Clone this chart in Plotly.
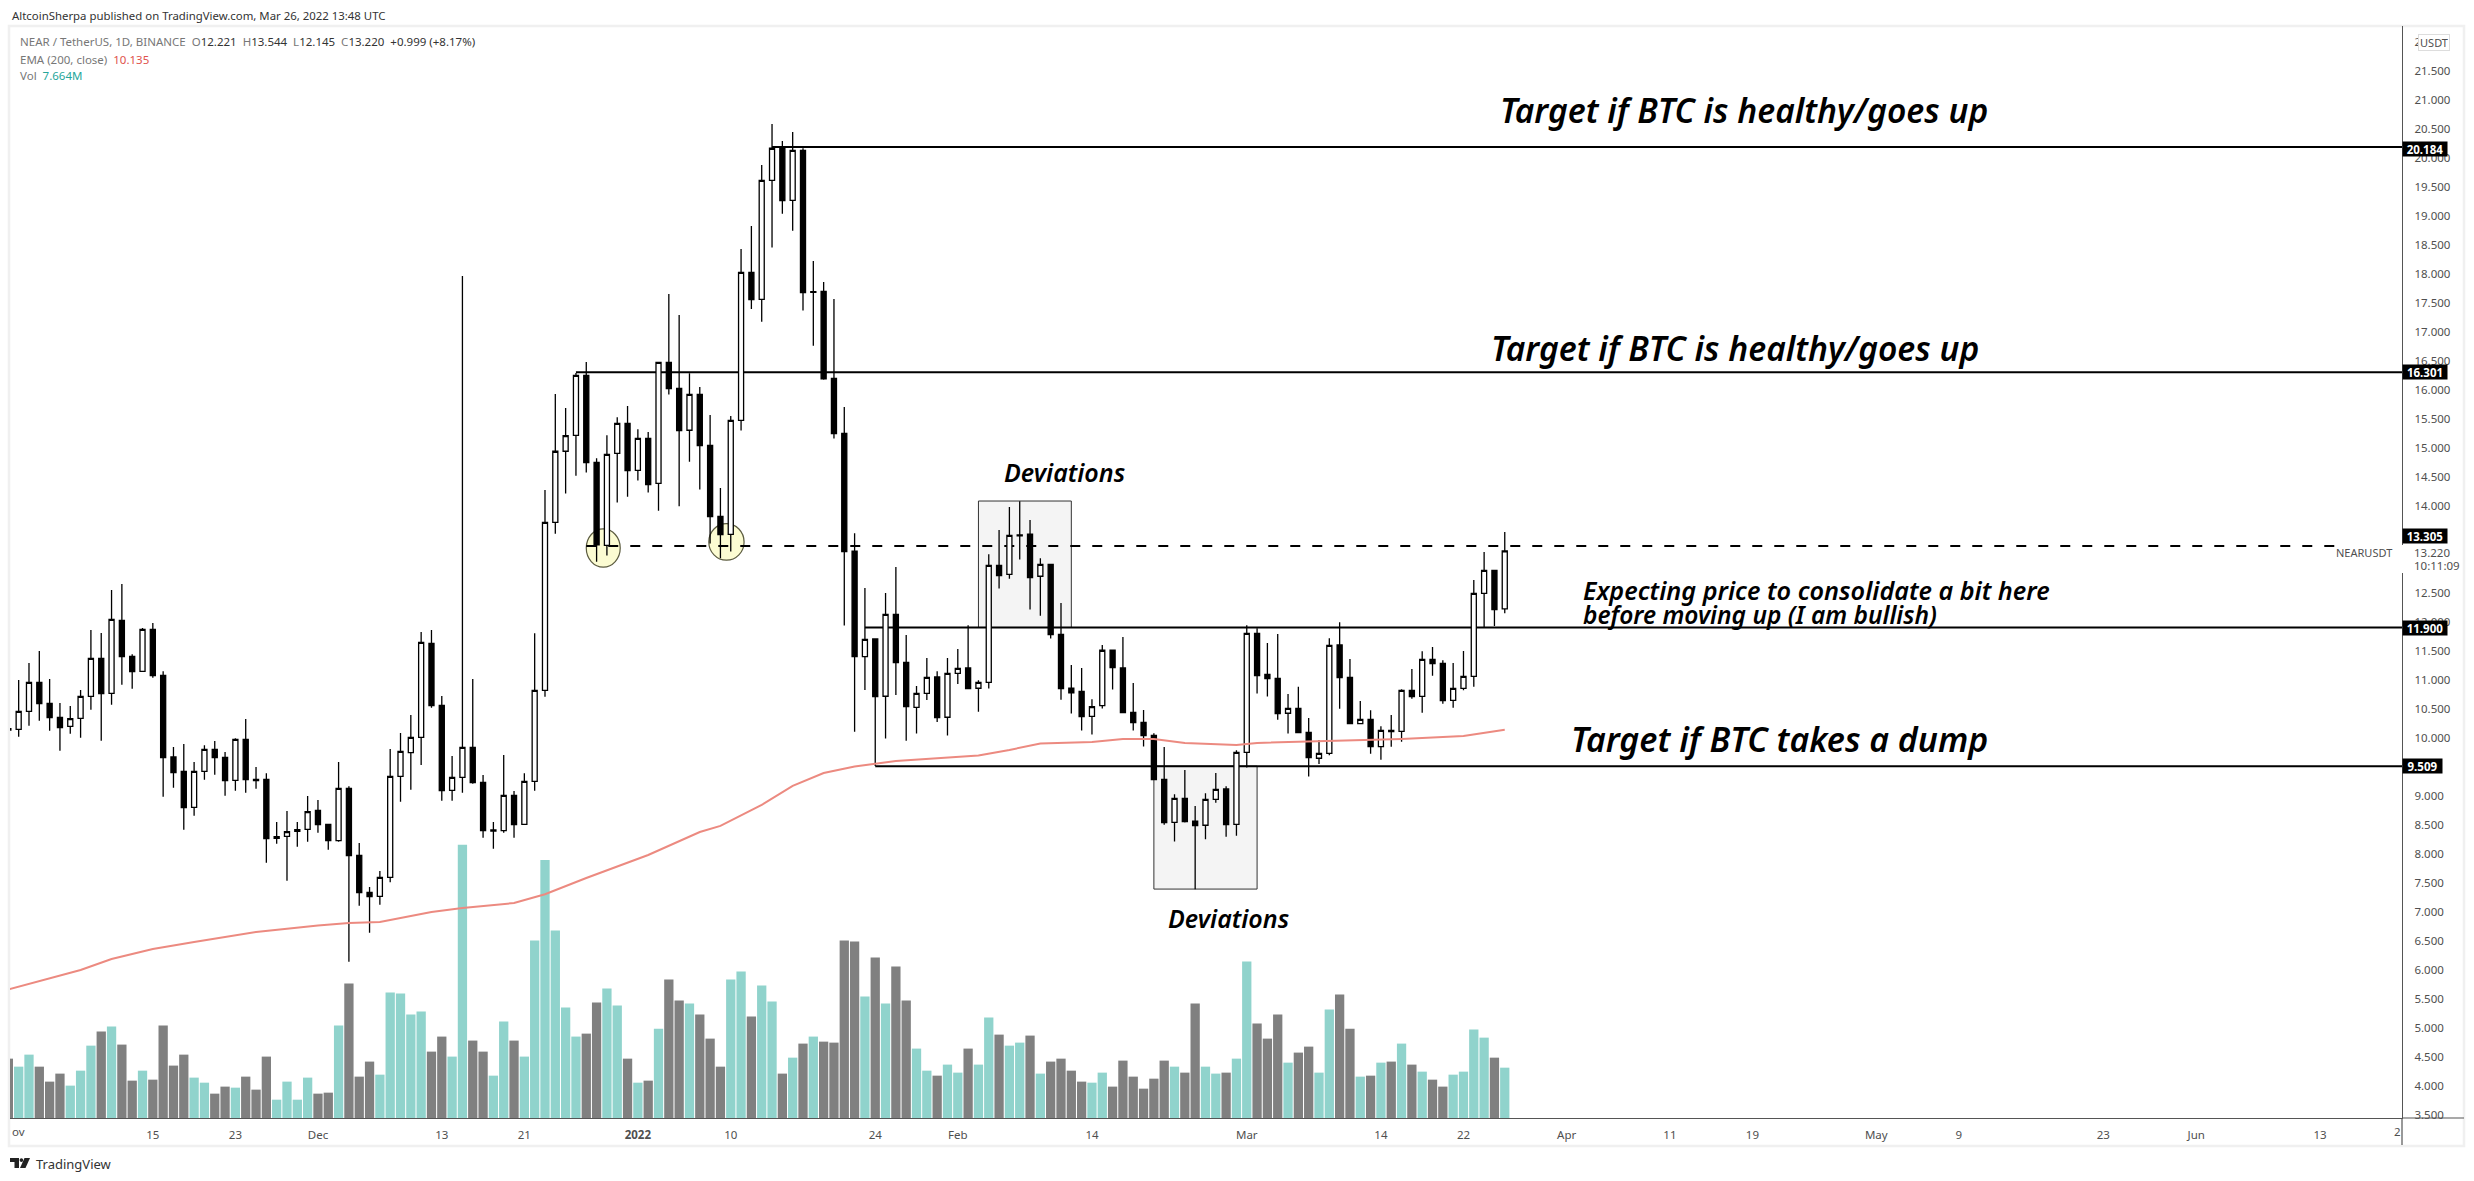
import pandas as pd
import plotly.graph_objects as go

# daily bars, Nov 1 2021 -> Mar 26 2022
dates = pd.date_range("2021-11-01", "2022-03-26", freq="D")

opens = [
    10.155, 10.144, 10.454, 10.954, 10.592, 10.351, 10.196, 10.334, 10.713, 11.368,
    10.765, 12.023, 11.403, 11.144, 11.868, 11.075, 9.667, 9.420, 8.799, 9.420,
    9.799, 9.661, 9.265, 9.972, 9.282, 9.282, 8.265, 8.299, 8.385, 8.420,
    8.747, 8.506, 8.224, 9.127, 7.972, 7.334, 7.265, 7.592, 9.334, 9.742,
    10.006, 11.627, 10.558, 9.092, 9.316, 9.834, 9.230, 8.391, 8.397, 9.006,
    8.506, 9.248, 10.817, 13.713, 14.938, 15.213, 16.248, 14.748, 13.317, 14.903,
    15.420, 14.610, 15.162, 14.386, 16.472, 16.024, 15.300, 15.920, 15.041, 13.817,
    13.506, 15.472, 18.024, 17.558, 19.610, 20.162, 19.265, 20.127, 17.679, 17.696,
    16.196, 15.248, 13.214, 11.397, 11.702, 10.714, 12.127, 11.300, 10.524, 10.765,
    11.047, 10.352, 11.110, 11.202, 10.852, 10.955, 12.972, 12.817, 13.478, 13.507,
    12.783, 12.989, 11.782, 10.852, 10.800, 10.369, 10.553, 11.507, 11.202, 10.438,
    10.265, 10.041, 9.282, 8.541, 8.955, 8.559, 8.490, 8.938, 9.116, 8.507,
    9.748, 11.800, 11.093, 11.024, 10.421, 10.507, 10.093, 9.645, 9.731, 11.598,
    11.040, 10.242, 10.316, 9.845, 10.127, 10.110, 10.816, 10.713, 11.351, 11.282,
    10.644, 10.851, 11.058, 12.489, 12.885, 12.221,
]
highs = [
    10.190, 10.995, 11.288, 11.495, 11.012, 10.598, 10.546, 10.822, 11.857, 11.805,
    12.546, 12.650, 11.437, 11.891, 11.977, 11.144, 9.839, 9.891, 9.581, 9.868,
    9.943, 9.753, 9.989, 10.322, 9.494, 9.385, 8.546, 8.736, 8.546, 8.994,
    8.926, 8.518, 9.581, 9.161, 8.184, 7.426, 7.702, 9.805, 10.081, 10.391,
    11.822, 11.857, 10.719, 9.684, 17.960, 11.012, 9.357, 8.546, 9.701, 9.081,
    9.386, 11.799, 14.271, 15.926, 15.685, 16.288, 16.478, 14.817, 15.213, 15.524,
    15.719, 15.317, 15.271, 16.472, 17.650, 17.288, 16.282, 16.047, 15.564, 14.305,
    15.547, 18.426, 18.823, 19.874, 20.581, 20.288, 20.443, 20.162, 18.219, 17.857,
    17.564, 15.702, 13.524, 12.581, 11.714, 12.495, 12.944, 11.771, 10.892, 11.375,
    11.145, 11.375, 11.530, 11.938, 10.989, 13.162, 13.581, 13.978, 14.076, 13.754,
    13.093, 12.989, 12.323, 11.254, 11.202, 10.662, 11.599, 11.507, 11.737, 10.944,
    10.478, 10.076, 9.840, 9.024, 9.444, 8.823, 9.041, 9.392, 9.162, 9.783,
    11.938, 11.886, 11.633, 11.788, 10.754, 10.880, 10.340, 9.961, 11.714, 11.989,
    11.357, 10.632, 10.472, 10.196, 10.391, 10.834, 11.184, 11.489, 11.564, 11.334,
    11.288, 11.495, 12.719, 13.201, 12.885, 13.544,
]
lows = [
    10.104, 10.018, 10.207, 10.293, 10.121, 9.776, 10.069, 10.000, 10.483, 9.949,
    10.569, 10.914, 10.845, 11.144, 11.035, 8.983, 9.138, 8.414, 8.655, 9.276,
    9.362, 9.000, 9.087, 9.052, 9.121, 7.845, 8.173, 7.535, 8.121, 8.207,
    8.362, 8.069, 8.207, 6.138, 7.104, 6.638, 7.121, 7.506, 8.897, 9.104,
    9.529, 10.518, 8.914, 8.914, 9.052, 9.207, 8.276, 8.086, 8.362, 8.276,
    8.506, 9.087, 10.707, 13.518, 14.208, 14.518, 14.570, 13.035, 13.139, 14.053,
    14.156, 14.432, 14.225, 13.914, 15.915, 13.991, 14.759, 14.277, 13.350, 13.092,
    13.208, 15.294, 17.391, 17.173, 18.449, 19.035, 18.742, 17.363, 16.759, 16.173,
    15.156, 11.932, 10.104, 10.823, 9.512, 9.984, 10.737, 9.949, 10.070, 10.650,
    10.271, 10.036, 10.926, 10.846, 10.449, 10.846, 12.570, 12.742, 13.070, 12.208,
    12.104, 11.708, 10.656, 10.415, 10.122, 10.053, 10.501, 10.829, 10.421, 10.122,
    9.846, 9.265, 8.501, 8.208, 8.536, 7.386, 8.248, 8.880, 8.294, 8.311,
    9.484, 10.760, 10.708, 10.311, 10.070, 10.087, 9.329, 9.547, 9.696, 10.500,
    10.242, 10.236, 9.724, 9.621, 9.845, 9.931, 10.673, 10.431, 11.069, 10.586,
    10.518, 10.816, 10.880, 11.902, 11.926, 12.145,
]
closes = [
    10.132, 10.454, 10.954, 10.586, 10.345, 10.173, 10.328, 10.713, 11.368, 10.759,
    12.041, 11.397, 11.138, 11.868, 11.069, 9.655, 9.397, 8.793, 9.420, 9.799,
    9.655, 9.259, 9.972, 9.276, 9.259, 8.259, 8.293, 8.380, 8.414, 8.724,
    8.500, 8.224, 9.127, 7.966, 7.328, 7.259, 7.592, 9.334, 9.765, 10.006,
    11.644, 10.552, 9.087, 9.316, 9.834, 9.224, 8.397, 8.408, 9.006, 8.500,
    9.248, 10.817, 13.713, 14.938, 15.208, 16.248, 14.742, 13.323, 14.886, 15.420,
    14.604, 15.162, 14.363, 16.472, 16.018, 15.294, 15.920, 15.035, 13.811, 13.501,
    15.472, 18.024, 17.553, 19.610, 20.162, 19.259, 20.127, 17.673, 17.690, 16.185,
    15.242, 13.208, 11.397, 11.696, 10.708, 12.127, 11.294, 10.536, 10.765, 11.041,
    10.346, 11.110, 11.196, 10.846, 10.955, 12.972, 12.794, 13.489, 13.495, 12.760,
    12.989, 11.777, 10.846, 10.771, 10.363, 10.536, 11.507, 11.208, 10.432, 10.260,
    10.036, 9.277, 8.536, 8.955, 8.553, 8.484, 8.938, 9.110, 8.501, 9.748,
    11.800, 11.070, 11.018, 10.415, 10.507, 10.087, 9.656, 9.731, 11.593, 11.035,
    10.242, 10.316, 9.845, 10.127, 10.104, 10.816, 10.707, 11.351, 11.276, 10.638,
    10.851, 11.058, 12.489, 12.885, 12.207, 13.220,
]
# volume, millions
volumes = [
    9.04, 7.82, 9.65, 7.82, 5.54, 6.76, 4.93, 7.21, 11.02, 13.16,
    13.92, 11.18, 5.69, 7.21, 5.84, 14.07, 7.98, 9.65, 6.15, 5.38,
    3.71, 4.78, 4.62, 6.30, 4.32, 9.35, 2.79, 5.54, 2.79, 6.15,
    3.71, 3.86, 14.07, 20.47, 6.30, 8.59, 6.60, 19.10, 18.95, 15.75,
    16.21, 10.11, 12.40, 9.35, 41.60, 11.79, 10.11, 6.45, 14.68, 11.79,
    9.35, 27.03, 39.30, 28.55, 16.81, 12.40, 12.85, 17.58, 19.71, 17.12,
    9.04, 5.38, 5.69, 13.61, 21.08, 17.88, 17.42, 15.75, 12.09, 7.82,
    21.08, 22.30, 15.44, 20.17, 17.73, 6.76, 9.19, 11.33, 12.40, 11.63,
    11.48, 27.03, 26.87, 18.49, 24.43, 17.42, 23.06, 17.88, 10.57, 7.21,
    6.45, 8.13, 6.91, 10.57, 8.13, 15.29, 12.70, 11.02, 11.48, 12.55,
    6.76, 8.59, 9.04, 7.21, 5.54, 5.38, 6.91, 4.78, 8.74, 6.30,
    4.47, 5.99, 8.74, 7.82, 6.91, 17.42, 7.82, 6.76, 6.91, 9.04,
    23.83, 14.38, 12.09, 15.75, 8.43, 9.96, 10.87, 6.91, 16.51, 18.80,
    13.61, 6.30, 6.45, 8.43, 8.59, 11.33, 8.13, 7.06, 5.84, 4.78,
    6.60, 7.06, 13.46, 12.24, 9.19, 7.664,
]

ema_dates = [
    "2021-11-01", "2021-11-08", "2021-11-11", "2021-11-15", "2021-11-19", "2021-11-25",
    "2021-12-01", "2021-12-04", "2021-12-07", "2021-12-09", "2021-12-12", "2021-12-15",
    "2021-12-20", "2021-12-23", "2021-12-27", "2022-01-02", "2022-01-07", "2022-01-09",
    "2022-01-13", "2022-01-16", "2022-01-19", "2022-01-22", "2022-01-24", "2022-01-26",
    "2022-02-03", "2022-02-06", "2022-02-09", "2022-02-14", "2022-02-17", "2022-02-20",
    "2022-02-23", "2022-02-28", "2022-03-02", "2022-03-08", "2022-03-16", "2022-03-22",
    "2022-03-26",
]
ema_values = [
    5.658, 5.995, 6.185, 6.357, 6.478, 6.650,
    6.762, 6.805, 6.822, 6.891, 6.995, 7.064,
    7.150, 7.300, 7.581, 7.978, 8.374, 8.479,
    8.840, 9.168, 9.391, 9.503, 9.547, 9.598,
    9.693, 9.788, 9.900, 9.926, 9.978, 9.978,
    9.909, 9.874, 9.909, 9.943, 9.978, 10.031,
    10.135,
]

# 9.5, 13 and 13.5 sit under the price badges, 22 is cut by the USDT button
price_ticks = [p / 2 for p in range(7, 45) if p / 2 not in (9.5, 13.0, 13.5)]
price_labels = ["2" if p == 22 else "%.3f" % p for p in price_ticks]
date_ticks = [
    "2021-11-15", "2021-11-23", "2021-12-01", "2021-12-13", "2021-12-21", "2022-01-01",
    "2022-01-10", "2022-01-24", "2022-02-01", "2022-02-14", "2022-03-01", "2022-03-14",
    "2022-03-22", "2022-04-01", "2022-04-11", "2022-04-19", "2022-05-01", "2022-05-09",
    "2022-05-23", "2022-06-01", "2022-06-13",
]
date_labels = [
    "15", "23", "Dec", "13", "21", "<b>2022</b>",
    "10", "24", "Feb", "14", "Mar", "14",
    "22", "Apr", "11", "19", "May", "9",
    "23", "Jun", "13",
]

# drawn levels: price, first date, badge label
levels = [
    (20.184, "2022-01-14", "20.184"),
    (16.301, "2021-12-26", "16.301"),
    (11.900, "2022-01-23", "11.900"),
    (9.509, "2022-01-24", "9.509"),
]
dashed_level = (13.305, "2021-12-27", "2022-06-15")
boxes = [
    ("2022-02-03", "2022-02-12", 11.9, 14.08),
    ("2022-02-20", "2022-03-02", 7.39, 9.509),
]
circles = [
    ("2021-12-27", "2021-12-30 07:00", 12.94, 13.60),
    ("2022-01-07 21:00", "2022-01-11 07:00", 13.06, 13.69),
]

W, H = 2474, 1181
L, R, T, B = 10, 2402, 26, 1118
TEXT = "#4f4f4f"
FONT = "Noto Sans"


def px(x):
    return (x - L) / (R - L)


def py(y):
    return (B - y) / (B - T)


bar_colors = ["#90d3cc" if c >= o else "#808080" for o, c in zip(opens, closes)]

fig = go.Figure()
fig.add_trace(go.Bar(x=dates, y=volumes, marker=dict(color=bar_colors, line=dict(width=0)),
                     yaxis="y", showlegend=False))
fig.add_trace(go.Candlestick(
    x=dates, open=opens, high=highs, low=lows, close=closes, yaxis="y2", showlegend=False,
    increasing=dict(line=dict(color="black", width=1.3), fillcolor="white"),
    decreasing=dict(line=dict(color="black", width=1.3), fillcolor="black"),
    whiskerwidth=0,
))
fig.add_trace(go.Scatter(x=ema_dates, y=ema_values, mode="lines", yaxis="y2", showlegend=False,
                         line=dict(color="#ec8a80", width=2)))

shapes = []
for x0, x1, y0, y1 in boxes:
    shapes.append(dict(type="rect", xref="x", yref="y2", x0=x0, x1=x1, y0=y0, y1=y1, layer="below",
                       fillcolor="#f4f4f4", line=dict(color="#333333", width=1)))
for x0, x1, y0, y1 in circles:
    shapes.append(dict(type="circle", xref="x", yref="y2", x0=x0, x1=x1, y0=y0, y1=y1, layer="below",
                       fillcolor="#fcfcd2", line=dict(color="#5c5c40", width=1.2)))
for price, start, _ in levels:
    shapes.append(dict(type="line", xref="x", yref="y2", x0=start, x1="2022-06-21", y0=price, y1=price,
                       layer="below", line=dict(color="black", width=2)))
shapes.append(dict(type="line", xref="x", yref="y2", x0=dashed_level[1], x1=dashed_level[2],
                   y0=dashed_level[0], y1=dashed_level[0], layer="below",
                   line=dict(color="black", width=2, dash="10px,12px")))

# frame around the chart and the stubs of the axes
shapes.append(dict(type="rect", xref="paper", yref="paper", x0=px(9), x1=px(2464), y0=py(1146), y1=py(26),
                   line=dict(color="#f0f0f0", width=2.5), layer="below"))
shapes.append(dict(type="line", xref="paper", yref="paper", x0=px(2402), x1=px(2464), y0=0, y1=0,
                   line=dict(color="#555555", width=1.2)))
shapes.append(dict(type="line", xref="paper", yref="paper", x0=1, x1=1, y0=py(1145), y1=0,
                   line=dict(color="#555555", width=1.2)))
# last price label breaks the axis line
shapes.append(dict(type="rect", xref="paper", yref="paper", x0=px(2401), x1=px(2462), y0=py(573), y1=py(545),
                   fillcolor="white", line=dict(width=0)))

# TradingView logo
shapes.append(dict(type="path", xref="paper", yref="paper", fillcolor="#222222", line=dict(width=0),
                   path="M %f,%f L %f,%f L %f,%f L %f,%f L %f,%f L %f,%f Z" % (
                       px(10), py(1158), px(19), py(1158), px(19), py(1168), px(14.5), py(1168),
                       px(14.5), py(1162), px(10), py(1162))))
shapes.append(dict(type="path", xref="paper", yref="paper", fillcolor="#222222", line=dict(width=0),
                   path="M %f,%f L %f,%f L %f,%f L %f,%f Z" % (
                       px(24.5), py(1158), px(30), py(1158), px(25.5), py(1168), px(20), py(1168))))
shapes.append(dict(type="circle", xref="paper", yref="paper", fillcolor="#222222", line=dict(width=0),
                   x0=px(19.6), x1=px(23.2), y0=py(1162), y1=py(1158.2)))

ann = []


def note(x, y, text, size=12, color=TEXT, anchor="left", align=None, **kw):
    ann.append(dict(xref="paper", yref="paper", x=px(x), y=py(y), text=text, showarrow=False,
                    xanchor=anchor, yanchor="middle", align=align or anchor,
                    font=dict(family=FONT, size=size, color=color), **kw))


note(10, 15, "AltcoinSherpa published on TradingView.com, Mar 26, 2022 13:48 UTC", size=11.4, color="#333333")
note(18, 42, "<span style='color:#777777'>NEAR / TetherUS, 1D, BINANCE</span>  "
             "<span style='color:#777777'>O</span>12.221  <span style='color:#777777'>H</span>13.544  "
             "<span style='color:#777777'>L</span>12.145  <span style='color:#777777'>C</span>13.220  "
             "+0.999 (+8.17%)", size=11.5, color="#333333")
note(18, 59, "<span style='color:#777777'>EMA (200, close)</span>  "
             "<span style='color:#e0524d'>10.135</span>", size=11.5)
note(18, 76, "<span style='color:#777777'>Vol</span>  <span style='color:#26a69a'>7.664M</span>", size=11.5)
note(34, 1164, "TradingView", size=13, color="#333333")
note(10, 1131, "ov", size=11.5)
note(2403, 1131, "2", size=11.5, anchor="right")

# comments drawn on the chart
chart_notes = [
    (1498, 110, "Target if BTC is healthy/goes up", 33.6),
    (1489, 348, "Target if BTC is healthy/goes up", 33.6),
    (1002, 472, "Deviations", 25),
    (1166, 918, "Deviations", 25),
    (1581, 590, "Expecting price to consolidate a bit here", 25.2),
    (1581, 614, "before moving up (I am bullish)", 24.5),
    (1569, 739, "Target if BTC takes a dump", 33.9),
]
for x, y, text, size in chart_notes:
    ann.append(dict(xref="paper", yref="paper", x=px(x), y=py(y), text=text, showarrow=False,
                    xanchor="left", yanchor="middle",
                    font=dict(family=FONT, size=size, color="black", style="italic", weight=600)))

# price badges on the axis
badge_y = {"20.184": 148.5, "16.301": 372, "11.900": 628, "9.509": 766}
for _, _, label in levels:
    note(2402, badge_y[label], "<b>%s</b>" % label, size=11.5, color="white", bgcolor="black",
         align="center", width=42 if len(label) == 6 else 37, height=12)
note(2402, 536, "<b>13.305</b>", size=11.5, color="white", bgcolor="black", align="center", width=42, height=12)
note(2412, 552, "13.220", size=11.5)
note(2412, 565, "10:11:09", size=11.5)
note(2394, 552, "NEARUSDT", size=11, anchor="right")
note(2418, 43, "USDT", size=11, bgcolor="white", bordercolor="#dddddd", width=28, height=13, align="center")

fig.update_layout(
    width=W, height=H,
    margin=dict(l=L, r=W - R, t=T, b=H - B, autoexpand=False),
    paper_bgcolor="white", plot_bgcolor="white",
    bargap=0.1, hovermode=False, showlegend=False,
    xaxis=dict(type="date", range=["2021-11-01 03:50", "2022-06-20 22:36"], tickvals=date_ticks,
               ticktext=date_labels, showgrid=False, zeroline=False, showline=True, linecolor="#555555",
               linewidth=1.2, rangeslider=dict(visible=False), ticks="outside", ticklen=6,
               tickcolor="rgba(0,0,0,0)", tickfont=dict(family=FONT, size=11.5, color=TEXT)),
    yaxis=dict(range=[0, 166.3], visible=False, showgrid=False, zeroline=False),
    yaxis2=dict(overlaying="y", side="right", range=[3.443, 22.27], tickvals=price_ticks,
                ticktext=price_labels, showgrid=False, zeroline=False, showline=True,
                linecolor="#555555", linewidth=1.2, ticks="outside", ticklen=9,
                tickcolor="rgba(0,0,0,0)", tickfont=dict(family=FONT, size=11.5, color=TEXT)),
    shapes=shapes, annotations=ann,
)

fig.write_html("out.html", config=dict(displayModeBar=False),
               post_script="document.body.style.margin='0'")
